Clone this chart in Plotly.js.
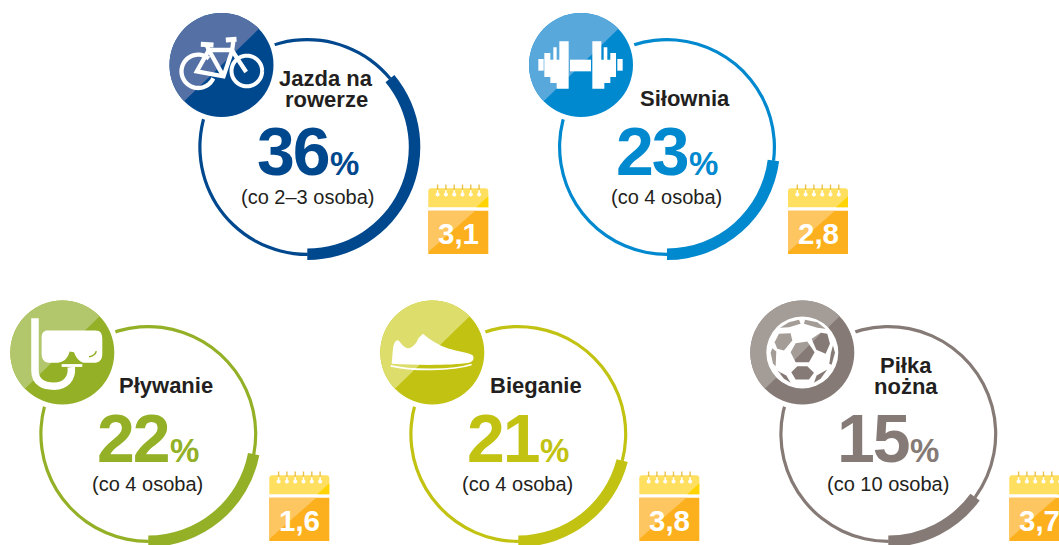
<!DOCTYPE html>
<html lang="pl">
<head>
<meta charset="utf-8">
<title>Aktywność sportowa</title>
<script src="https://cdn.plot.ly/plotly-3.0.1.min.js"></script>
<style>
  html, body { margin: 0; padding: 0; background: #fff; overflow: hidden; width: 1059px; height: 545px; }
  #chart { width: 1075px; height: 560px; }
</style>
</head>
<body>
<div id="chart"></div>
<script>
// Figures for each sport
const sports = ['Jazda na rowerze', 'Siłownia', 'Pływanie', 'Bieganie', 'Piłka nożna'];
const shares = [36, 23, 22, 21, 15];
const captions = ['(co 2–3 osoba)', '(co 4 osoba)', '(co 4 osoba)', '(co 4 osoba)', '(co 10 osoba)'];
const calendarValues = ['3,1', '2,8', '1,6', '3,8', '3,7'];
const titleLines = [['Jazda na', 'rowerze'], ['Siłownia'], ['Pływanie'], ['Bieganie'], ['Piłka', 'nożna']];

// Palette
const darkTones = ['#00488e', '#0089cf', '#93b026', '#c2c213', '#857a75'];
const lightTones = ['#5470a5', '#58a8dc', '#b2c66c', '#dddd6b', '#a49c97'];
const ink = '#231f20';
const font = '"Liberation Sans", Arial, sans-serif';

// Page geometry in pixels
const W = 1075, H = 560;
const ringCentres = [[307.3, 147], [667, 147], [148.3, 434], [518.3, 434], [888.3, 434]];
const textCentres = [[309, 149], [667.5, 149], [149, 436], [519, 436], [889, 436]];
const iconCentres = [[221.5, 65], [581, 65], [62.3, 352.5], [432.3, 352.5], [802.3, 352.5]];
const calendarLefts = [428.3, 788, 269.3, 639.3, 1009.3];
const thinOuter = 109, thinInner = 105.8, thickOuter = 113, thickInner = 101.5;

const px = x => x / W;
const py = y => 1 - y / H;

// Ring pair for one sport: a thin full circle and a heavy arc proportional to the share
function ringTrace(i, outer, inner, showRest) {
  const [cx, cy] = ringCentres[i];
  return {
    type: 'pie',
    values: [shares[i], 100 - shares[i]],
    labels: [sports[i], 'pozostali'],
    sort: false,
    direction: 'clockwise',
    rotation: 180 - shares[i] * 3.6,
    hole: inner / outer,
    textinfo: 'none',
    hoverinfo: 'skip',
    showlegend: false,
    marker: { colors: [darkTones[i], showRest ? darkTones[i] : 'rgba(0,0,0,0)'], line: { width: 0 } },
    domain: { x: [px(cx - outer), px(cx + outer)], y: [py(cy + outer), py(cy - outer)] }
  };
}

const traces = [];
sports.forEach((_, i) => {
  traces.push(ringTrace(i, thinOuter, thinInner, true));
  traces.push(ringTrace(i, thickOuter, thickInner, false));
});

// Path helpers: glyphs are described on a 3x grid whose circle centre is (170, 171)
function glyph(d, ox, oy) {
  let k = 0;
  return d.replace(/-?\d+(\.\d+)?/g, n => {
    const isX = k++ % 2 === 0;
    return isX ? px(ox + (+n - 170) / 3).toFixed(5) : py(oy + (+n - 171) / 3).toFixed(5);
  });
}
function arc(cx, cy, r, a0, a1) {
  let d = '';
  const steps = 48;
  for (let s = 0; s <= steps; s++) {
    const a = (a0 + (a1 - a0) * s / steps) * Math.PI / 180;
    d += (s ? 'L ' : 'M ') + (cx + r * Math.cos(a)).toFixed(1) + ' ' + (cy + r * Math.sin(a)).toFixed(1) + ' ';
  }
  return d;
}
// Keeps the part of a polygon on the upper-left or lower-right side of the icon's diagonal
function cutPolygon(points, upperLeft) {
  const side = p => (upperLeft ? 338 - (p[0] + p[1]) : (p[0] + p[1]) - 338);
  const out = [];
  points.forEach((p, i) => {
    const q = points[(i + 1) % points.length];
    const a = side(p), b = side(q);
    if (a >= 0) out.push(p);
    if (a * b < 0) {
      const t = a / (a - b);
      out.push([p[0] + (q[0] - p[0]) * t, p[1] + (q[1] - p[1]) * t]);
    }
  });
  return out;
}
const polyPath = pts => pts.length ? 'M ' + pts.map(p => p[0].toFixed(1) + ' ' + p[1].toFixed(1)).join(' L ') + ' Z' : '';

const shapes = [];
const fillPath = (d, ox, oy, colour) => shapes.push({ type: 'path', xref: 'paper', yref: 'paper', layer: 'above', path: glyph(d, ox, oy), fillcolor: colour, line: { width: 0 } });
const strokePath = (d, ox, oy, colour, width) => shapes.push({ type: 'path', xref: 'paper', yref: 'paper', layer: 'above', path: glyph(d, ox, oy), fillcolor: 'rgba(0,0,0,0)', line: { color: colour, width: width } });
const disc = (cx, cy, r, colour) => shapes.push({ type: 'circle', xref: 'paper', yref: 'paper', layer: 'above', x0: px(cx - r), x1: px(cx + r), y0: py(cy + r), y1: py(cy - r), fillcolor: colour, line: { width: 0 } });

// White glyphs, one per sport
const iconDrawers = [
  (x, y) => {
    strokePath(arc(100, 190, 50, 25, 310), x, y, '#fff', 4.3);
    strokePath(arc(246, 189, 46, 0, 360), x, y, '#fff', 4);
    strokePath('M 108 109 L 146 111', x, y, '#fff', 5);
    strokePath('M 183 96 L 215 94', x, y, '#fff', 5);
    strokePath('M 126 112 L 132 126 L 202 126 L 206 96', x, y, '#fff', 4.3);
    strokePath('M 132 126 L 96 190 L 176 205 L 202 128 L 244 192', x, y, '#fff', 4.3);
    strokePath('M 132 126 L 176 205', x, y, '#fff', 4.3);
  },
  (x, y) => {
    const d = [
      'M 42 153 L 58 153 L 58 188 L 42 188 Z',
      'M 60 135 L 78 135 L 78 155 L 87 155 L 87 118 L 97 118 L 97 155 L 105 155 L 105 100 L 133 100 L 133 242 L 97 242 L 97 225 L 78 225 L 78 207 L 60 207 Z',
      'M 137 155 L 200 155 L 200 190 L 137 190 Z',
      'M 204 100 L 231 100 L 231 155 L 238 155 L 238 118 L 249 118 L 249 155 L 258 155 L 258 135 L 275 135 L 275 207 L 258 207 L 258 225 L 240 225 L 240 242 L 204 242 Z',
      'M 279 153 L 295 153 L 295 188 L 279 188 Z'
    ];
    d.forEach(p => fillPath(p, x, y, '#fff'));
  },
  (x, y) => {
    strokePath('M 88 68 L 88 225 C 88 262 115 272 145 272 C 180 272 200 250 197 215', x, y, '#fff', 7.5);
    fillPath('M 125 105 L 270 105 C 285 105 290 115 290 130 L 290 175 C 290 195 280 202 265 202 L 240 202 C 225 202 212 190 205 170 L 192 168 C 187 190 172 202 150 202 L 130 202 C 115 202 108 190 108 175 L 108 125 C 108 112 115 105 125 105 Z', x, y, '#fff');
    strokePath('M 168 210 L 230 210', x, y, '#fff', 2.8);
    strokePath('M 250 184 C 262 182 270 176 272 167', x, y, darkTones[2], 1.5);
  },
  (x, y) => {
    fillPath('M 48 205 L 52 160 C 55 140 62 132 68 135 C 75 140 85 158 98 158 C 110 158 125 140 128 128 L 142 115 C 165 135 190 150 220 160 C 245 167 280 172 292 180 C 296 190 293 198 280 202 C 230 210 130 210 48 205 Z', x, y, '#fff');
    strokePath('M 45 211 C 110 226 230 226 288 207', x, y, '#fff', 1.8);
  },
  (x, y) => {
    disc(x, y, 36, '#fff');
    const panels = [
      [[135, 170], [150, 143], [185, 138], [207, 170], [190, 200], [150, 200]],
      [[87, 140], [100, 115], [135, 113], [140, 135], [115, 165], [95, 160]],
      [[198, 130], [225, 112], [245, 115], [253, 145], [240, 175], [212, 163]],
      [[137, 230], [155, 212], [185, 212], [205, 232], [190, 252], [150, 252]],
      [[103, 97], [130, 80], [160, 73], [165, 85], [130, 95]],
      [[178, 73], [215, 80], [240, 100], [215, 97], [175, 85]],
      [[75, 172], [80, 158], [92, 168], [90, 212], [82, 204]],
      [[262, 150], [268, 172], [258, 208], [251, 205], [256, 172]],
      [[95, 225], [122, 240], [135, 262], [115, 250]],
      [[213, 240], [245, 222], [225, 250], [205, 262]]
    ];
    panels.forEach(p => {
      const a = cutPolygon(p, true), b = cutPolygon(p, false);
      if (a.length) fillPath(polyPath(a), x, y, lightTones[4]);
      if (b.length) fillPath(polyPath(b), x, y, darkTones[4]);
    });
  }
];

// Icon badge: white halo, two-tone disc, glyph
iconCentres.forEach(([x, y], i) => {
  disc(x, y, 57, '#fff');
  disc(x, y, 52, darkTones[i]);
  const c = [];
  for (let a = -44; a >= -224; a -= 4) {
    const t = a * Math.PI / 180;
    c.push([170 + 156 * Math.cos(t), 171 + 156 * Math.sin(t)]);
  }
  fillPath(polyPath(c), x, y, lightTones[i]);
  iconDrawers[i](x, y);
});

// Calendar badge, placed from its left edge and the ring's centre line
function calendar(left, cy) {
  const yTop = cy + 39.3, yMid = cy + 58.3, yLow = cy + 61.7, yEnd = cy + 105;
  const right = left + 60;
  const path = d => shapes.push(Object.assign({ type: 'path', xref: 'paper', yref: 'paper', layer: 'above', line: { width: 0 } }, d));
  const xy = (a, b) => px(a).toFixed(5) + ' ' + py(b).toFixed(5);
  path({ fillcolor: '#ffdf60', path: 'M ' + xy(left, yMid) + ' L ' + xy(left, yTop + 3) + ' Q ' + xy(left, yTop) + ' ' + xy(left + 3, yTop) + ' L ' + xy(right - 3, yTop) + ' Q ' + xy(right, yTop) + ' ' + xy(right, yTop + 3) + ' L ' + xy(right, yMid) + ' Z' });
  path({ fillcolor: '#ffd400', path: 'M ' + xy(right, yTop + 8) + ' L ' + xy(right, yMid) + ' L ' + xy(right - 12, yMid) + ' Z' });
  path({ fillcolor: '#fdb01d', path: 'M ' + xy(left, yLow) + ' L ' + xy(right, yLow) + ' L ' + xy(right, yEnd) + ' L ' + xy(left, yEnd) + ' Z' });
  path({ fillcolor: '#fec660', path: 'M ' + xy(left, yLow) + ' L ' + xy(left + 47, yLow) + ' L ' + xy(left, yEnd - 2) + ' Z' });
  for (let n = 0; n < 6; n++) {
    const rx = left + 9.3 + n * 8.3;
    path({ line: { color: '#e9c24a', width: 1.4 }, path: 'M ' + xy(rx, cy + 35.5) + ' L ' + xy(rx, cy + 41) });
    path({ line: { color: '#fff', width: 1.4 }, path: 'M ' + xy(rx, cy + 41) + ' L ' + xy(rx, cy + 44) });
    shapes.push({ type: 'circle', xref: 'paper', yref: 'paper', layer: 'above', x0: px(rx - 2), x1: px(rx + 2), y0: py(cy + 47.5), y1: py(cy + 43.5), fillcolor: '#fff', line: { width: 0 } });
  }
}
calendarLefts.forEach((left, i) => calendar(left, textCentres[i][1]));

// All wording is placed by baseline
const label = (x, baseline, text, size, colour, anchor, bold) => ({
  xref: 'paper', yref: 'paper', x: px(x), y: py(baseline - 0.3465 * size),
  xanchor: anchor, yanchor: 'middle', showarrow: false, borderpad: 0, borderwidth: 0,
  text: bold ? '<b>' + text + '</b>' : text,
  font: { family: font, size: size, color: colour }
});
const annotations = [];
sports.forEach((_, i) => {
  const [cx, cy] = textCentres[i];
  const lines = titleLines[i];
  const firstBase = lines.length === 2 ? cy - 62.5 : cy - 43;
  lines.forEach((t, n) => annotations.push(label(cx + 17, firstBase + n * 20.5, t, 22, ink, 'center', true)));
  annotations.push(label(cx + 20, cy + 26, '<span style="letter-spacing:-2px">' + shares[i] + '</span>', 68, darkTones[i], 'right', true));
  annotations.push(label(cx + 21, cy + 26, '%', 33, darkTones[i], 'left', true));
  annotations.push(label(cx - 1.5, cy + 54.7, captions[i], 20, ink, 'center', false));
  annotations.push(label(calendarLefts[i] + 30, cy + 95, calendarValues[i], 29.5, '#fff', 'center', true));
});

Plotly.newPlot('chart', traces, {
  width: W, height: H,
  margin: { l: 0, r: 0, t: 0, b: 0 },
  paper_bgcolor: '#fff',
  showlegend: false,
  shapes: shapes,
  annotations: annotations
}, { displayModeBar: false, staticPlot: true });
</script>
</body>
</html>
